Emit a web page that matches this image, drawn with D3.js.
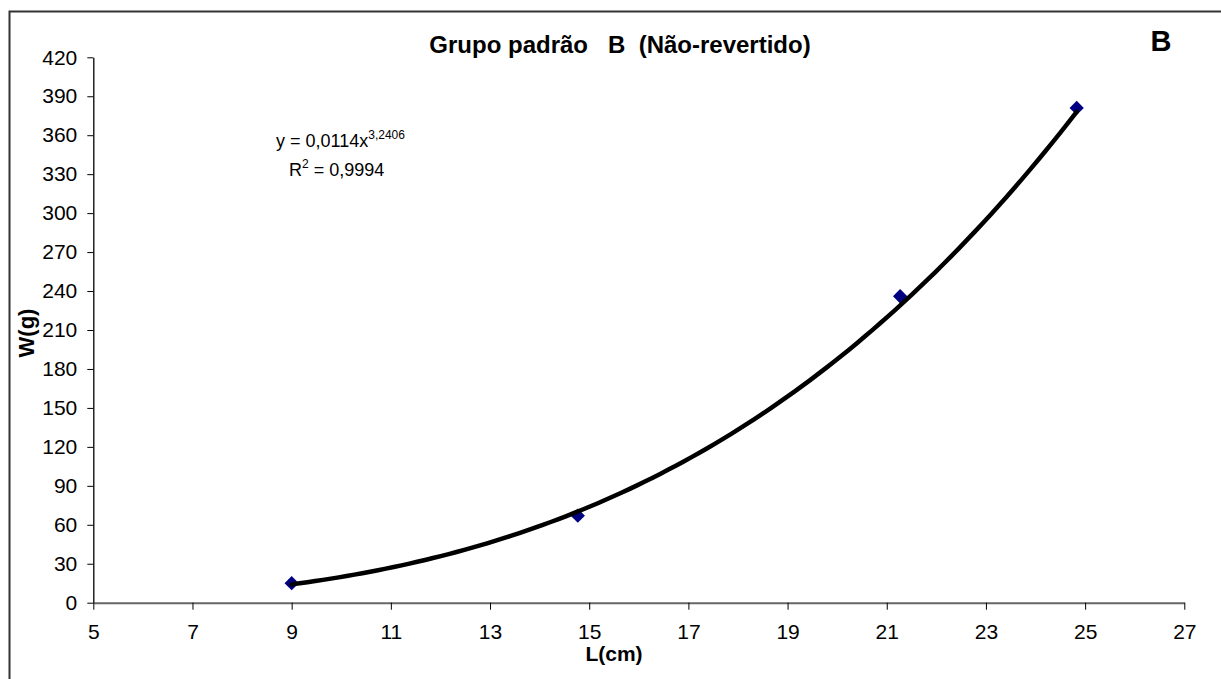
<!DOCTYPE html>
<html>
<head>
<meta charset="utf-8">
<script src="https://cdn.jsdelivr.net/npm/d3@7"></script>
<style>
  html, body { margin: 0; padding: 0; background: #fff; }
  svg { display: block; font-family: Arial, "Liberation Sans", sans-serif; }
</style>
</head>
<body>
<svg id="chart" width="1221" height="679"></svg>
<script>
// Length (cm) and weight (g) of the standard group B
const lengths = [9.0, 14.77, 21.27, 24.83];
const weights = [15, 67, 236, 381];

// Power trendline W = a * L^b
const trendA = 0.0114;
const trendB = 3.2406;
const rSquared = "0,9994";

const xTicks = [5, 7, 9, 11, 13, 15, 17, 19, 21, 23, 25, 27];
const yTicks = [0, 30, 60, 90, 120, 150, 180, 210, 240, 270, 300, 330, 360, 390, 420];

const svg = d3.select("#chart");
const plot = { left: 93.3, right: 1184.3, top: 57.3, bottom: 602.7 };

const x = d3.scaleLinear().domain([5, 27]).range([plot.left, plot.right]);
const y = d3.scaleLinear().domain([0, 420]).range([plot.bottom, plot.top]);

// chart frame
svg.append("rect")
  .attr("x", 9.5).attr("y", 11.5)
  .attr("width", 1400).attr("height", 900)
  .attr("fill", "none").attr("stroke", "#333").attr("stroke-width", 2);

// y axis
const yAxis = svg.append("g")
  .attr("transform", `translate(${plot.left},0)`)
  .call(d3.axisLeft(y).tickValues(yTicks).tickSize(6).tickPadding(10).tickSizeOuter(0));
yAxis.select(".domain").attr("stroke", "#000").attr("stroke-width", 1.3);
yAxis.selectAll(".tick line").attr("stroke", "#000");
yAxis.selectAll("text").attr("font-size", 21).attr("fill", "#000")
  .attr("font-family", "Arial, 'Liberation Sans', sans-serif");

// x axis
const xAxis = svg.append("g")
  .attr("transform", `translate(0,${plot.bottom})`)
  .call(d3.axisBottom(x).tickValues(xTicks).tickSize(7).tickPadding(14).tickSizeOuter(0));
xAxis.select(".domain").attr("stroke", "#666").attr("stroke-width", 2);
xAxis.selectAll(".tick line").attr("stroke", "#000");
xAxis.selectAll("text").attr("font-size", 21).attr("fill", "#000")
  .attr("font-family", "Arial, 'Liberation Sans', sans-serif");

// data markers (diamonds)
svg.append("g").selectAll("path")
  .data(lengths.map((l, i) => [l, weights[i]]))
  .join("path")
  .attr("d", d3.symbol(d3.symbolDiamond2, 130)())
  .attr("transform", d => `translate(${x(d[0])},${y(d[1])})`)
  .attr("fill", "#000080");

// trendline across the observed length range
const lMin = d3.min(lengths), lMax = d3.max(lengths);
const trendPts = d3.range(0, 101).map(i => {
  const l = lMin + (lMax - lMin) * i / 100;
  return [l, trendA * Math.pow(l, trendB)];
});
svg.append("path")
  .datum(trendPts)
  .attr("d", d3.line().x(d => x(d[0])).y(d => y(d[1])).curve(d3.curveMonotoneX))
  .attr("fill", "none").attr("stroke", "#000").attr("stroke-width", 4.5)
  .attr("stroke-linecap", "round");

// title
svg.append("text")
  .attr("x", 620).attr("y", 53)
  .attr("text-anchor", "middle")
  .attr("font-size", 24).attr("font-weight", "bold")
  .attr("xml:space", "preserve").style("white-space", "pre")
  .text("Grupo padrão   B  (Não-revertido)");

// panel letter
svg.append("text")
  .attr("x", 1161).attr("y", 51)
  .attr("text-anchor", "middle")
  .attr("font-size", 29).attr("font-weight", "bold")
  .text("B");

// axis titles
svg.append("text")
  .attr("transform", "translate(34,333) rotate(-90)")
  .attr("text-anchor", "middle")
  .attr("font-size", 22).attr("font-weight", "bold")
  .text("W(g)");
svg.append("text")
  .attr("x", 614).attr("y", 661)
  .attr("text-anchor", "middle")
  .attr("font-size", 21).attr("font-weight", "bold")
  .text("L(cm)");

// trendline equation
const eq = svg.append("text")
  .attr("x", 276).attr("y", 147)
  .attr("font-size", 18);
eq.append("tspan").text("y = 0,0114x");
eq.append("tspan").attr("dy", -8).attr("font-size", 12).text("3,2406");

const r2 = svg.append("text")
  .attr("x", 289).attr("y", 176)
  .attr("font-size", 18);
r2.append("tspan").text("R");
r2.append("tspan").attr("dy", -8).attr("font-size", 12).text("2");
r2.append("tspan").attr("dy", 8).text(" = " + rSquared);
</script>
</body>
</html>
